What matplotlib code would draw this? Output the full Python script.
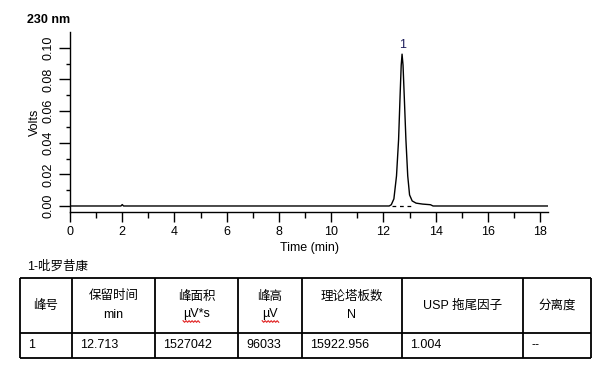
import matplotlib.pyplot as plt
import numpy as np

plt.rcParams.update({
    "font.family": ["Liberation Sans", "Noto Sans CJK SC"],
    "font.size": 9,
    "axes.linewidth": 1.0,
})

# chromatogram trace (time in min, signal in volts)
time_min = [0.0, 1.95, 2.0, 2.05, 12.22, 12.30, 12.40, 12.50, 12.58, 12.64,
            12.68, 12.713, 12.75, 12.80, 12.86, 12.93, 13.00, 13.10, 13.25,
            13.50, 13.80, 13.90, 18.3]
volts = [0.0, 0.0, 0.0009, 0.0, 0.0, 0.0008, 0.0045, 0.019, 0.042, 0.071,
         0.089, 0.096, 0.089, 0.068, 0.042, 0.019, 0.007, 0.0032, 0.0018,
         0.0012, 0.0008, 0.0, 0.0]
baseline_span = [12.33, 13.14]
peak_labels = ["1"]
peak_times = [12.713]
peak_heights = [0.096]

# results table
compound = "1-吡罗昔康"
header_names = ["峰号", "保留时间", "峰面积", "峰高", "理论塔板数", "USP 拖尾因子", "分离度"]
header_units = ["", "min", "µV*s", "µV", "N", "", ""]
row = ["1", "12.713", "1527042", "96033", "15922.956", "1.004", "--"]

W, H = 609, 370
fig = plt.figure(figsize=(W / 100, H / 100), dpi=100)

# ---- chromatogram ----
ax = fig.add_axes([70 / W, 1 - 212 / H, (548 - 70) / W, (212 - 32) / H])
ax.plot(time_min, volts, color="black", lw=1.0)
ax.plot(baseline_span, [0, 0], color="black", lw=0.9, ls=(0, (3, 3)))
for lab, t, h in zip(peak_labels, peak_times, peak_heights):
    ax.annotate(lab, (t, h), xytext=(0, 2.5), textcoords="offset points",
                ha="center", va="bottom", fontsize=9, color="#1c1c5a")
ax.set_xlim(0, 18.3)
ax.set_ylim(-0.0038, 0.110)
ax.set_xticks(np.arange(0, 19, 2))
ax.set_xticks(np.arange(0, 19, 1), minor=True)
ax.set_yticks(np.arange(0, 0.101, 0.02))
ax.set_yticks(np.arange(0, 0.101, 0.01), minor=True)
ax.set_yticklabels([f"{v:.2f}" for v in np.arange(0, 0.101, 0.02)],
                   rotation=90, va="center")
ax.tick_params(axis="y", which="major", length=8, width=1, pad=3)
ax.tick_params(axis="y", which="minor", length=3, width=1)
ax.tick_params(axis="x", which="major", length=7, width=1, pad=3)
ax.tick_params(axis="x", which="minor", length=4, width=1)
for s in ["top", "right"]:
    ax.spines[s].set_visible(False)
ax.set_xlabel("Time (min)", fontsize=9, labelpad=3)
fig.text(35 / W, 1 - 122 / H, "Volts", rotation=90, ha="center", va="center",
         fontsize=9)
fig.text(27 / W, 1 - 20 / H, "230 nm", ha="left", va="center", fontsize=9,
         fontweight="bold")

# ---- table, laid out in pixel units ----
tab = fig.add_axes([0, 0, 1, 1], zorder=-1)
tab.set_xlim(0, W)
tab.set_ylim(H, 0)
tab.axis("off")
col_edges = [20, 72, 155, 238, 302, 402, 523, 591]
row_edges = [278, 333, 358]
tab.text(27, 267, compound, ha="left", va="center", fontsize=9)
tab.hlines(row_edges, col_edges[0], col_edges[-1], color="black", lw=1.3)
tab.vlines(col_edges, row_edges[0], row_edges[-1], color="black", lw=1.3)
hy = (row_edges[0] + row_edges[1]) / 2
ry = (row_edges[1] + row_edges[2]) / 2
renderer = fig.canvas.get_renderer()
for i, (name, unit, val) in enumerate(zip(header_names, header_units, row)):
    cx = (col_edges[i] + col_edges[i + 1]) / 2
    if unit:
        tab.text(cx, hy - 9, name, ha="center", va="center", fontsize=9)
        ut = tab.text(cx, hy + 9, unit, ha="center", va="center", fontsize=9)
        if unit.startswith("µV"):
            # red spell-check squiggle under "µV"
            full_w = ut.get_window_extent(renderer).width
            probe = tab.text(0, 0, "µV", fontsize=9)
            mu_w = probe.get_window_extent(renderer).width
            probe.remove()
            x0 = cx - full_w / 2
            xs = np.arange(x0, x0 + mu_w + 1, 1.5)
            ys = hy + 16 + np.where(np.arange(len(xs)) % 2 == 0, -0.8, 0.8)
            tab.plot(xs, ys, color="#e02020", lw=0.8)
    else:
        tab.text(cx, hy, name, ha="center", va="center", fontsize=9)
    tab.text(col_edges[i] + 8, ry, val, ha="left", va="center", fontsize=9)

fig.savefig("out.png", dpi=100)
